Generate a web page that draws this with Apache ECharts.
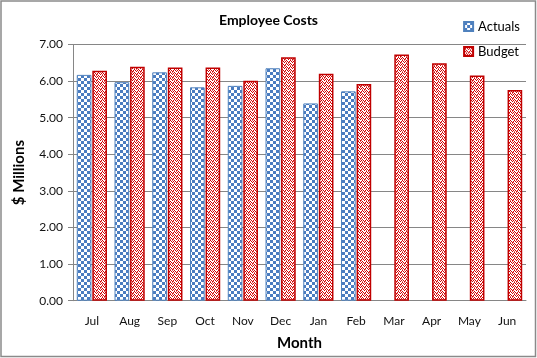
<!DOCTYPE html>
<html><head><meta charset="utf-8">
<script src="https://cdn.jsdelivr.net/npm/echarts@6/dist/echarts.min.js"></script>
<style>html,body{margin:0;padding:0;background:#fff}#c{width:537px;height:358px}</style>
</head><body><div id="c"></div>
<script>
const months = ['Jul','Aug','Sep','Oct','Nov','Dec','Jan','Feb','Mar','Apr','May','Jun'];
const actuals = [6.17,5.97,6.24,5.83,5.87,6.35,5.39,5.72,null,null,null,null];
const budget = [6.28,6.39,6.37,6.37,6.01,6.65,6.20,5.92,6.73,6.49,6.15,5.76];
const yTicks = [0,1,2,3,4,5,6,7];

function checker(){
  const c=document.createElement('canvas');c.width=6;c.height=6;
  const g=c.getContext('2d');g.fillStyle='#fff';g.fillRect(0,0,6,6);
  g.fillStyle='#4A7CC0';g.fillRect(0,0,3,3);g.fillRect(3,3,3,3);
  return c;
}
function zigzag(){
  const c=document.createElement('canvas');c.width=8;c.height=6;
  const g=c.getContext('2d');g.fillStyle='#fff';g.fillRect(0,0,8,6);
  g.fillStyle='#D00000';
  const px=[[0,2],[1,1],[2,0],[3,1],[4,2],[5,1],[6,0],[7,1],
            [0,5],[1,4],[2,3],[3,4],[4,5],[5,4],[6,3],[7,4]];
  px.forEach(p=>g.fillRect(p[0],p[1],1,1));
  g.fillStyle='#E86060';
  [[0,3],[4,0],[2,5],[6,2],[1,2],[5,5]].forEach(p=>g.fillRect(p[0],p[1],1,1));
  return c;
}
const font='Lato, "Noto Sans", sans-serif';
const chart=echarts.init(document.getElementById('c'),null,{renderer:'canvas'});
chart.setOption({
  animation:false,
  title:{text:'Employee Costs',left:'center',top:8,textStyle:{fontFamily:font,fontSize:14,fontWeight:'bold',color:'#000'}},
  legend:{right:12,top:15,orient:'vertical',itemGap:12,itemWidth:9,itemHeight:9,icon:'rect',
    textStyle:{fontFamily:font,fontSize:13,color:'#000'},data:['Actuals','Budget']},
  grid:{left:73,right:11,top:44.5,bottom:57.3,containLabel:false},
  xAxis:{type:'category',data:months,name:'Month',nameLocation:'middle',nameGap:35,
    nameTextStyle:{fontFamily:font,fontSize:15,fontWeight:'bold',color:'#000'},
    axisLine:{lineStyle:{color:'#868686'}},axisTick:{length:5,lineStyle:{color:'#868686'}},
    axisLabel:{fontFamily:font,fontSize:12,color:'#111',margin:14}},
  yAxis:{type:'value',min:yTicks[0],max:yTicks[yTicks.length-1],interval:1,name:'$ Millions',nameLocation:'middle',nameGap:46,
    nameTextStyle:{fontFamily:font,fontSize:15,fontWeight:'bold',color:'#000'},
    axisLine:{show:true,lineStyle:{color:'#868686'}},axisTick:{show:true,length:5,lineStyle:{color:'#868686'}},
    splitLine:{lineStyle:{color:'#868686'}},
    axisLabel:{fontFamily:font,fontSize:12,color:'#111',margin:10,formatter:v=>v.toFixed(2)}},
  series:[
    {name:'Actuals',type:'bar',data:actuals,barGap:'6%',barCategoryGap:'20%',
     itemStyle:{color:{image:checker(),repeat:'repeat'},borderColor:'#4F81BD',borderWidth:1}},
    {name:'Budget',type:'bar',data:budget,
     itemStyle:{color:{image:zigzag(),repeat:'repeat'},borderColor:'#C00000',borderWidth:1.5}}
  ],
  graphic:[{type:'rect',shape:{x:1,y:1,width:534.5,height:355.5},style:{fill:'none',stroke:'#8a8a8a',lineWidth:1.5},silent:true}]
});
</script></body></html>
